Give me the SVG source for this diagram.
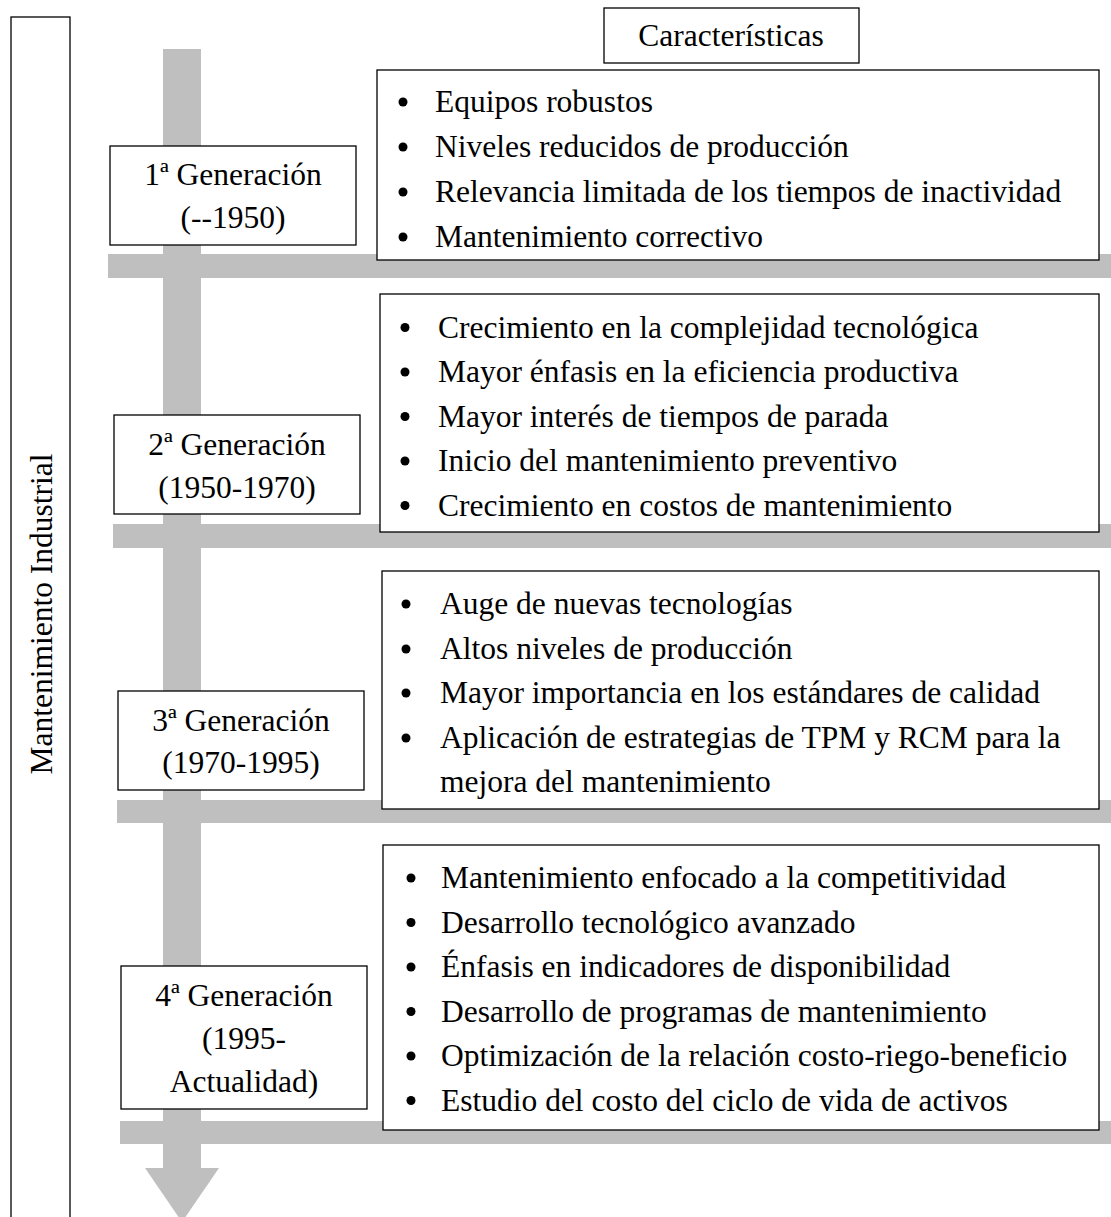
<svg xmlns="http://www.w3.org/2000/svg" width="1111" height="1217" viewBox="0 0 1111 1217">
<style>
.t{font-family:"Liberation Serif","Times New Roman",serif;font-size:31.5px;fill:#000}
.c{text-anchor:middle}
.box{fill:#fff;stroke:#000;stroke-width:1.3}
.bar{fill:#bfbfbf}
.dot{fill:#000}
</style>
<rect width="1111" height="1217" fill="#fff"/>
<g id="connectors">
<rect class="bar" x="163" y="49" width="38" height="1120"/>
<polygon class="bar" points="145,1168 219,1168 182,1222"/>
<rect class="bar" x="108" y="254" width="1003" height="24"/>
<rect class="bar" x="113" y="524" width="998" height="24"/>
<rect class="bar" x="117" y="800" width="994" height="23"/>
<rect class="bar" x="120" y="1121" width="991" height="23"/>
</g>
<g id="mantenimiento-industrial">
<rect x="11" y="17" width="59" height="1220" fill="none" stroke="#000" stroke-width="1.3"/>
<text class="t c" transform="translate(52,614) rotate(-90)">Mantenimiento Industrial</text>
</g>
<g id="caracteristicas">
<rect class="box" x="604" y="8" width="255" height="55"/>
<text class="t c" x="731" y="46">Características</text>
</g>
<g id="gen1">
<rect class="box" x="110" y="146" width="246" height="99"/>
<text class="t c" x="233" y="185">1ª Generación</text>
<text class="t c" x="233" y="228">(--1950)</text>
</g>
<g id="car1">
<rect class="box" x="377" y="70" width="722" height="190"/>
<circle class="dot" cx="403" cy="102" r="4.5"/>
<circle class="dot" cx="403" cy="147" r="4.5"/>
<circle class="dot" cx="403" cy="192" r="4.5"/>
<circle class="dot" cx="403" cy="237" r="4.5"/>
<text class="t" x="435" y="112">Equipos robustos</text>
<text class="t" x="435" y="157">Niveles reducidos de producción</text>
<text class="t" x="435" y="202">Relevancia limitada de los tiempos de inactividad</text>
<text class="t" x="435" y="247">Mantenimiento correctivo</text>
</g>
<g id="gen2">
<rect class="box" x="114" y="415" width="246" height="99"/>
<text class="t c" x="237" y="455">2ª Generación</text>
<text class="t c" x="237" y="498">(1950-1970)</text>
</g>
<g id="car2">
<rect class="box" x="380" y="294" width="719" height="238"/>
<circle class="dot" cx="405" cy="327.5" r="4.5"/>
<circle class="dot" cx="405" cy="372" r="4.5"/>
<circle class="dot" cx="405" cy="416.5" r="4.5"/>
<circle class="dot" cx="405" cy="461" r="4.5"/>
<circle class="dot" cx="405" cy="505.5" r="4.5"/>
<text class="t" x="438" y="337.5">Crecimiento en la complejidad tecnológica</text>
<text class="t" x="438" y="382">Mayor énfasis en la eficiencia productiva</text>
<text class="t" x="438" y="426.5">Mayor interés de tiempos de parada</text>
<text class="t" x="438" y="471">Inicio del mantenimiento preventivo</text>
<text class="t" x="438" y="515.5">Crecimiento en costos de mantenimiento</text>
</g>
<g id="gen3">
<rect class="box" x="118" y="691" width="246" height="99"/>
<text class="t c" x="241" y="731">3ª Generación</text>
<text class="t c" x="241" y="773">(1970-1995)</text>
</g>
<g id="car3">
<rect class="box" x="382" y="571" width="717" height="238"/>
<circle class="dot" cx="406" cy="604" r="4.5"/>
<circle class="dot" cx="406" cy="649" r="4.5"/>
<circle class="dot" cx="406" cy="693" r="4.5"/>
<circle class="dot" cx="406" cy="738" r="4.5"/>
<text class="t" x="440" y="614">Auge de nuevas tecnologías</text>
<text class="t" x="440" y="659">Altos niveles de producción</text>
<text class="t" x="440" y="703">Mayor importancia en los estándares de calidad</text>
<text class="t" x="440" y="748">Aplicación de estrategias de TPM y RCM para la</text>
<text class="t" x="440" y="792">mejora del mantenimiento</text>
</g>
<g id="gen4">
<rect class="box" x="121" y="966" width="246" height="143"/>
<text class="t c" x="244" y="1006">4ª Generación</text>
<text class="t c" x="244" y="1049">(1995-</text>
<text class="t c" x="244" y="1092">Actualidad)</text>
</g>
<g id="car4">
<rect class="box" x="383" y="845" width="716" height="285"/>
<circle class="dot" cx="411" cy="878" r="4.5"/>
<circle class="dot" cx="411" cy="922.5" r="4.5"/>
<circle class="dot" cx="411" cy="967" r="4.5"/>
<circle class="dot" cx="411" cy="1011.5" r="4.5"/>
<circle class="dot" cx="411" cy="1056" r="4.5"/>
<circle class="dot" cx="411" cy="1100.5" r="4.5"/>
<text class="t" x="441" y="888">Mantenimiento enfocado a la competitividad</text>
<text class="t" x="441" y="932.5">Desarrollo tecnológico avanzado</text>
<text class="t" x="441" y="977">Énfasis en indicadores de disponibilidad</text>
<text class="t" x="441" y="1021.5">Desarrollo de programas de mantenimiento</text>
<text class="t" x="441" y="1066">Optimización de la relación costo-riego-beneficio</text>
<text class="t" x="441" y="1110.5">Estudio del costo del ciclo de vida de activos</text>
</g>
</svg>
